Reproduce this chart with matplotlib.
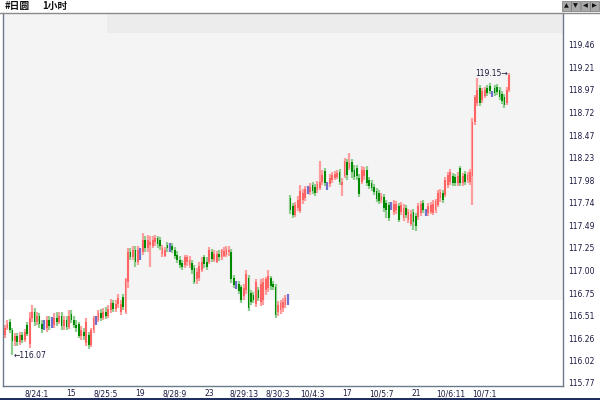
import matplotlib
matplotlib.use("Agg")
import matplotlib.pyplot as plt
from matplotlib.patches import Rectangle
import numpy as np

# USD/JPY, 1 hour candles
title_left = "#日圆"
title_period = "1小时"

opens = [
    116.29, 116.37, 116.44, 116.35, 116.23, 116.28, 116.22, 116.29, 116.24, 116.40,
    116.20, 116.48, 116.55, 116.44, 116.50, 116.41, 116.40, 116.37, 116.46, 116.44,
    116.40, 116.48, 116.44, 116.50, 116.39, 116.46, 116.38, 116.52, 116.46, 116.40,
    116.41, 116.28, 116.33, 116.21, 116.29, 116.19, 116.35, 116.46, 116.46, 116.53,
    116.48, 116.55, 116.50, 116.57, 116.64, 116.58, 116.63, 116.55, 116.71, 116.55,
    116.87, 117.20, 117.15, 117.22, 117.09, 117.20, 117.20, 117.33, 117.24, 117.28,
    117.27, 117.31, 117.35, 117.33, 117.18, 117.16, 117.28, 117.24, 117.27, 117.22,
    117.17, 117.11, 117.08, 117.06, 117.09, 117.06, 117.08, 117.03, 116.90, 116.92,
    117.00, 117.14, 117.09, 117.09, 117.20, 117.11, 117.09, 117.18, 117.14, 117.16,
    117.17, 117.20, 117.20, 116.92, 116.84, 116.85, 116.82, 116.72, 116.79, 116.92,
    116.75, 116.73, 116.63, 116.79, 116.65, 116.68, 116.79, 116.81, 116.92, 116.85,
    116.82, 116.55, 116.57, 116.59, 116.62, 116.68,
    117.79, 117.70, 117.60, 117.68,
    117.65, 117.77, 117.79, 117.88, 117.85, 117.93, 117.91, 117.88, 117.90, 117.96,
    118.08, 117.93, 117.94, 117.99, 118.01, 118.02, 118.07, 117.93, 118.03, 118.18,
    118.12, 118.18, 118.10, 118.12, 118.01, 117.96, 118.03, 118.10, 117.99, 117.95,
    117.91, 117.87, 117.84, 117.77, 117.80, 117.73, 117.71, 117.71, 117.64, 117.66,
    117.70, 117.64, 117.57, 117.68, 117.55, 117.51, 117.64, 117.59, 117.58, 117.63,
    117.73, 117.64, 117.63, 117.64, 117.63, 117.66, 117.71, 117.79, 117.84, 117.82,
    117.93, 117.96, 118.03, 118.02, 117.95, 118.12, 117.95, 118.05, 117.99, 117.96,
    118.03, 118.62, 118.83, 118.99, 118.86, 118.90, 118.99, 119.01, 118.92, 118.99,
    119.00, 118.97, 118.92, 118.89, 118.83, 118.97,
]

highs = [
    116.40, 116.46, 116.47, 116.37, 116.32, 116.32, 116.33, 116.33, 116.36, 116.44,
    116.55, 116.62, 116.59, 116.55, 116.53, 116.46, 116.46, 116.50, 116.50, 116.49,
    116.53, 116.55, 116.55, 116.55, 116.50, 116.50, 116.57, 116.57, 116.50, 116.46,
    116.44, 116.39, 116.37, 116.48, 116.33, 116.37, 116.50, 116.50, 116.57, 116.58,
    116.59, 116.60, 116.62, 116.69, 116.68, 116.68, 116.74, 116.68, 116.74, 116.92,
    117.24, 117.24, 117.27, 117.27, 117.27, 117.24, 117.41, 117.37, 117.38, 117.37,
    117.37, 117.38, 117.37, 117.36, 117.28, 117.25, 117.31, 117.30, 117.30, 117.25,
    117.21, 117.16, 117.11, 117.17, 117.17, 117.16, 117.11, 117.06, 117.03, 117.09,
    117.14, 117.17, 117.14, 117.25, 117.23, 117.22, 117.21, 117.22, 117.23, 117.25,
    117.27, 117.27, 117.23, 116.95, 116.88, 116.88, 116.84, 116.85, 117.00, 116.95,
    116.79, 116.76, 116.91, 116.82, 116.90, 116.92, 116.93, 117.00, 116.94, 116.88,
    116.85, 116.67, 116.68, 116.70, 116.73, 116.74,
    117.82, 117.73, 117.75, 117.81,
    117.93, 117.89, 117.92, 117.92, 117.95, 117.96, 117.94, 117.97, 118.19, 118.10,
    118.12, 117.96, 118.05, 118.07, 118.08, 118.10, 118.11, 118.01, 118.23, 118.22,
    118.28, 118.22, 118.15, 118.15, 118.05, 118.14, 118.13, 118.14, 118.02, 117.99,
    117.94, 117.90, 117.88, 117.84, 117.83, 117.77, 117.75, 117.75, 117.77, 117.76,
    117.73, 117.75, 117.72, 117.71, 117.67, 117.66, 117.67, 117.63, 117.73, 117.76,
    117.77, 117.67, 117.73, 117.75, 117.77, 117.78, 117.88, 117.89, 117.88, 118.02,
    118.07, 118.11, 118.06, 118.05, 118.07, 118.14, 118.06, 118.08, 118.07, 118.11,
    118.66, 118.91, 119.10, 119.02, 118.99, 119.00, 119.02, 119.05, 118.96, 119.02,
    119.03, 119.00, 118.96, 118.92, 119.00, 119.15,
]

lows = [
    116.26, 116.35, 116.32, 116.07, 116.17, 116.17, 116.19, 116.21, 116.22, 116.28,
    116.15, 116.44, 116.39, 116.40, 116.37, 116.32, 116.35, 116.33, 116.35, 116.37,
    116.37, 116.39, 116.41, 116.35, 116.35, 116.35, 116.36, 116.43, 116.37, 116.33,
    116.26, 116.24, 116.24, 116.17, 116.14, 116.16, 116.32, 116.40, 116.44, 116.45,
    116.46, 116.47, 116.48, 116.53, 116.55, 116.55, 116.59, 116.51, 116.57, 116.52,
    116.81, 117.11, 117.11, 117.04, 117.06, 117.11, 117.17, 117.20, 117.20, 117.04,
    117.24, 117.27, 117.24, 117.22, 117.14, 117.14, 117.20, 117.20, 117.19, 117.12,
    117.08, 117.03, 117.00, 117.03, 117.05, 117.03, 116.96, 116.85, 116.85, 116.88,
    116.98, 117.03, 117.00, 117.07, 117.09, 117.09, 117.08, 117.10, 117.11, 117.14,
    117.14, 117.16, 116.86, 116.81, 116.80, 116.74, 116.64, 116.68, 116.74, 116.56,
    116.62, 116.64, 116.60, 116.67, 116.61, 116.62, 116.73, 116.76, 116.79, 116.79,
    116.48, 116.50, 116.52, 116.55, 116.59, 116.62,
    117.61, 117.57, 117.58, 117.65,
    117.63, 117.72, 117.76, 117.83, 117.82, 117.83, 117.81, 117.84, 117.88, 117.93,
    117.92, 117.88, 117.91, 117.95, 117.99, 118.00, 117.93, 117.81, 118.01, 117.99,
    118.10, 118.01, 117.99, 117.99, 117.80, 117.94, 117.99, 117.92, 117.89, 117.87,
    117.82, 117.75, 117.72, 117.73, 117.64, 117.57, 117.54, 117.66, 117.60, 117.61,
    117.53, 117.60, 117.54, 117.57, 117.52, 117.48, 117.44, 117.43, 117.55, 117.59,
    117.63, 117.59, 117.59, 117.61, 117.60, 117.63, 117.69, 117.75, 117.73, 117.80,
    117.90, 117.93, 117.92, 117.92, 117.92, 117.92, 117.92, 117.93, 117.95, 117.93,
    117.71, 118.59, 118.79, 118.79, 118.83, 118.88, 118.90, 118.92, 118.89, 118.90,
    118.91, 118.86, 118.82, 118.77, 118.81, 118.95,
]

closes = [
    116.37, 116.41, 116.35, 116.23, 116.28, 116.22, 116.29, 116.24, 116.33, 116.30,
    116.48, 116.55, 116.44, 116.50, 116.41, 116.36, 116.40, 116.46, 116.39, 116.44,
    116.48, 116.44, 116.50, 116.39, 116.46, 116.38, 116.50, 116.46, 116.40, 116.37,
    116.28, 116.35, 116.28, 116.44, 116.19, 116.35, 116.48, 116.46, 116.53, 116.48,
    116.55, 116.50, 116.58, 116.64, 116.58, 116.63, 116.70, 116.63, 116.60, 116.90,
    117.20, 117.15, 117.22, 117.09, 117.22, 117.20, 117.33, 117.24, 117.33, 117.31,
    117.33, 117.35, 117.29, 117.27, 117.24, 117.22, 117.24, 117.24, 117.22, 117.16,
    117.11, 117.06, 117.04, 117.14, 117.14, 117.11, 117.00, 116.87, 116.98, 117.05,
    117.09, 117.07, 117.04, 117.22, 117.12, 117.18, 117.18, 117.14, 117.22, 117.21,
    117.23, 117.22, 116.90, 116.84, 116.84, 116.77, 116.68, 116.81, 116.96, 116.59,
    116.65, 116.68, 116.87, 116.70, 116.85, 116.87, 116.90, 116.94, 116.83, 116.82,
    116.51, 116.62, 116.64, 116.65, 116.70, 116.68,
    117.66, 117.60, 117.71, 117.77,
    117.87, 117.84, 117.89, 117.88, 117.91, 117.87, 117.84, 117.94, 117.96, 118.04,
    117.95, 117.93, 118.01, 118.04, 118.05, 118.06, 117.96, 117.96, 118.19, 118.04,
    118.17, 118.07, 118.02, 118.03, 117.83, 118.10, 118.10, 117.95, 117.92, 117.90,
    117.86, 117.78, 117.76, 117.81, 117.68, 117.66, 117.57, 117.71, 117.72, 117.72,
    117.55, 117.71, 117.68, 117.60, 117.64, 117.61, 117.53, 117.48, 117.70, 117.72,
    117.66, 117.64, 117.70, 117.71, 117.72, 117.76, 117.84, 117.86, 117.77, 117.99,
    118.04, 118.07, 117.95, 117.95, 118.03, 117.95, 118.03, 117.96, 118.04, 118.07,
    118.62, 118.89, 118.97, 118.83, 118.96, 118.97, 118.94, 118.96, 118.92, 118.94,
    118.95, 118.89, 118.85, 118.81, 118.97, 119.13,
]

# time labels, every 14 bars
label_bars = [13, 27, 41, 55, 69, 83, 97, 111, 125, 139, 153, 167, 181, 195]
label_text = ["8/24:1", "15", "8/25:5", "19", "8/28:9", "23", "8/29:13",
              "8/30:3", "10/4:3", "17", "10/5:7", "21", "10/6:11", "10/7:1"]

price_ticks = [119.46, 119.21, 118.97, 118.72, 118.47, 118.23, 117.98, 117.74,
               117.49, 117.25, 117.00, 116.75, 116.51, 116.26, 116.02, 115.77]

low_bar, low_price = 3, 116.07
high_bar, high_price = 205, 119.15
shade_floor = 116.68

assert len(opens) == len(highs) == len(lows) == len(closes)

W, H = 600, 400
fig = plt.figure(figsize=(6, 4), dpi=100)
fig.patch.set_facecolor("white")
ax = fig.add_axes([3 / W, 1 - 386 / H, 560 / W, 373 / H])
ax.set_facecolor("white")

ax.set_xlim(-0.81, 226.8)
ax.set_ylim(115.737, 119.809)

# background shading
ax.axhspan(shade_floor, 120.5, color="#f4f4f4", lw=0, zorder=0)
ax.axhspan(119.59, 120.5, xmin=104 / 560, color="#ececec", lw=0, zorder=0)

o = np.array(opens)
h = np.array(highs)
l = np.array(lows)
c = np.array(closes)
x = np.arange(len(c))
up = c > o + 1e-9
dn = c < o - 1e-9
flat = ~(up | dn)

ax.vlines(x[up], l[up], h[up], color="#ff9e9e", lw=1.6, zorder=2)
ax.bar(x[up], c[up] - o[up], bottom=o[up], width=0.75, color="#ff6464", lw=0, zorder=3)
ax.vlines(x[dn], l[dn], h[dn], color="#8fcc8f", lw=1.6, zorder=2)
ax.bar(x[dn], c[dn] - o[dn], bottom=o[dn], width=0.7, color="#008a00", lw=0, zorder=3)
ax.vlines(x[flat], l[flat], h[flat], color="#7070cc", lw=1.6, zorder=2)

# min / max markers
ax.text(low_bar + 0.4, low_price, "←" + f"{low_price:.2f}", ha="left", va="center",
        fontsize=5.5, color="#1a1a40", zorder=4)
ax.text(high_bar - 0.7, high_price, f"{high_price:.2f}" + "→", ha="right", va="center",
        fontsize=5.5, color="#1a1a40", zorder=4)

# axes
ax.yaxis.tick_right()
ax.set_yticks(price_ticks)
ax.set_yticklabels([f"{v:.2f}" for v in price_ticks])
ax.set_xticks(label_bars)
ax.set_xticklabels(label_text)
ax.tick_params(axis="y", length=0, pad=3.5, labelsize=5.5, labelcolor="#1a1a40")
ax.tick_params(axis="x", length=0, pad=2.5, labelsize=5.5, labelcolor="#1a1a40")
for side in ["left", "bottom", "right"]:
    ax.spines[side].set_color("#6b7b8c")
    ax.spines[side].set_linewidth(1)
ax.spines["top"].set_visible(False)

# header
fig.add_artist(plt.Line2D([0, 1], [1 - 12.5 / H, 1 - 12.5 / H], color="#8a8a8a", lw=1))
fig.text(5 / W, 1 - 6 / H, title_left, ha="left", va="center", fontsize=7,
         fontweight="bold", family=["Noto Sans CJK SC", "DejaVu Sans"], color="#111111")
fig.text(42 / W, 1 - 6 / H, title_period, ha="left", va="center", fontsize=7,
         fontweight="bold", family=["Noto Sans CJK SC", "DejaVu Sans"], color="#111111")

# scroll buttons top right
for bx, glyph in zip([562, 571, 581, 590], ["▲", "▼", "◀", "▶"]):
    fig.add_artist(Rectangle((bx / W, 1 - 11 / H), 8.5 / W, 10 / H,
                             transform=fig.transFigure, facecolor="#a9a9a9",
                             edgecolor="#777777", lw=0.5))
    fig.text((bx + 4.2) / W, 1 - 6 / H, glyph, ha="center", va="center",
             fontsize=4.5, color="#111111")

# bottom bar
fig.add_artist(Rectangle((0, 0), 1, 2.5 / H, transform=fig.transFigure,
                         facecolor="#1f2f5f", edgecolor="none"))

fig.savefig("out.png", dpi=100)
